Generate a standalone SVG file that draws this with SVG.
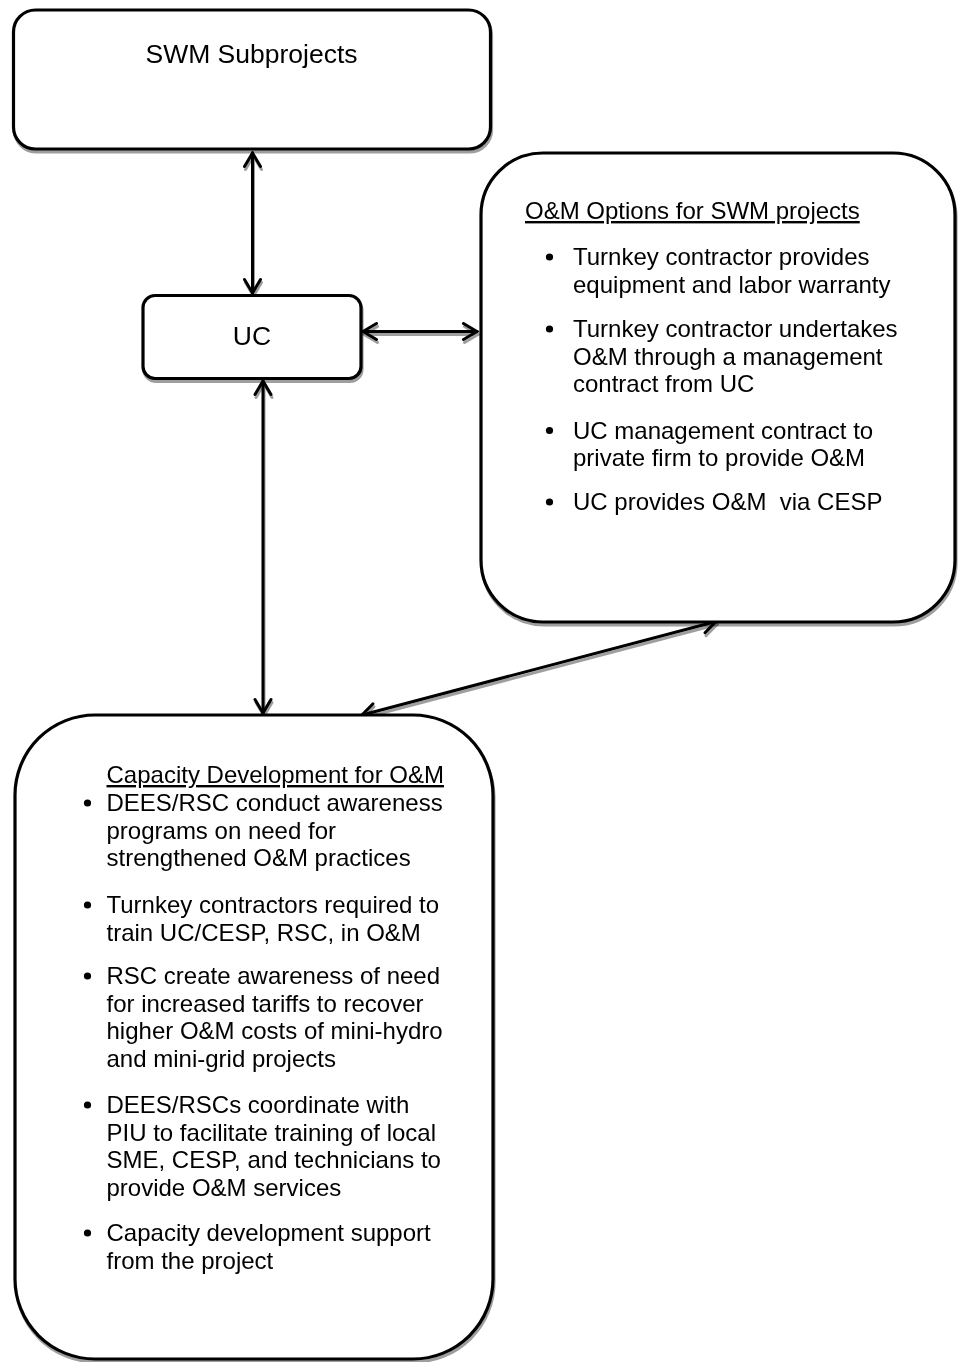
<svg xmlns="http://www.w3.org/2000/svg" width="959" height="1362" viewBox="0 0 959 1362">
  <defs>
    <style>
      .box { fill: #ffffff; stroke: #000000; stroke-width: 3.2; }
      .link { fill: none; stroke: #000000; stroke-width: 3; stroke-linecap: round; }
      .title { font-family: "Liberation Sans", Arial, sans-serif; font-size: 26.5px; fill: #000000; text-anchor: middle; }
      .body { font-family: "Liberation Sans", Arial, sans-serif; font-size: 24px; fill: #000000; }
      .head { text-decoration: underline; }
      .dot { fill: #000000; }
    </style>
    <!-- soft grey drop shadow, down and slightly right -->
    <filter id="shadow" filterUnits="userSpaceOnUse" x="0" y="0" width="959" height="1362">
      <feGaussianBlur in="SourceAlpha" stdDeviation="0.6"/>
      <feOffset dx="1" dy="3" result="off"/>
      <feFlood flood-color="#000000" flood-opacity="0.38"/>
      <feComposite in2="off" operator="in"/>
      <feMerge>
        <feMergeNode/>
        <feMergeNode in="SourceGraphic"/>
      </feMerge>
    </filter>
    <marker id="head" viewBox="-16 -10 18 20" markerWidth="18" markerHeight="20" refX="0" refY="0" markerUnits="userSpaceOnUse" orient="auto-start-reverse">
      <path d="M-13.5,-8 L0,0 L-13.5,8" fill="none" stroke="#000000" stroke-width="3" stroke-linecap="round" stroke-linejoin="miter"/>
    </marker>
  </defs>

  <rect width="959" height="1362" fill="#ffffff"/>

  <!-- connectors -->
  <g id="connectors" filter="url(#shadow)">
    <line class="link" x1="252.5" y1="153" x2="252.5" y2="293" marker-start="url(#head)" marker-end="url(#head)"/>
    <line class="link" x1="363" y1="331.5" x2="477" y2="331.5" marker-start="url(#head)" marker-end="url(#head)"/>
    <line class="link" x1="263" y1="381" x2="263" y2="713" marker-start="url(#head)" marker-end="url(#head)"/>
    <line class="link" x1="716" y1="621.5" x2="362" y2="715" marker-start="url(#head)" marker-end="url(#head)"/>
  </g>

  <!-- SWM Subprojects -->
  <g id="swm-subprojects" filter="url(#shadow)">
    <rect class="box" x="13.5" y="10" width="477" height="139" rx="22"/>
    <text class="title" x="251.5" y="63">SWM Subprojects</text>
  </g>

  <!-- UC -->
  <g id="uc" filter="url(#shadow)">
    <rect class="box" x="143" y="295.5" width="218" height="83" rx="12"/>
    <text class="title" x="252" y="345">UC</text>
  </g>

  <!-- O&M options -->
  <g id="om-options" filter="url(#shadow)">
    <rect class="box" x="481" y="153" width="474" height="469" rx="62"/>
    <text class="body head" x="525" y="219">O&amp;M Options for SWM projects</text>
    <circle class="dot" cx="549.5" cy="257" r="3.6"/>
    <text class="body" x="573" y="265">Turnkey contractor provides</text>
    <text class="body" x="573" y="292.5">equipment and labor warranty</text>
    <circle class="dot" cx="549.5" cy="329" r="3.6"/>
    <text class="body" x="573" y="337">Turnkey contractor undertakes</text>
    <text class="body" x="573" y="364.5">O&amp;M through a management</text>
    <text class="body" x="573" y="392">contract from UC</text>
    <circle class="dot" cx="549.5" cy="430.5" r="3.6"/>
    <text class="body" x="573" y="438.5">UC management contract to</text>
    <text class="body" x="573" y="466">private firm to provide O&amp;M</text>
    <circle class="dot" cx="549.5" cy="502" r="3.6"/>
    <text class="body" x="573" y="510" xml:space="preserve">UC provides O&amp;M  via CESP</text>
  </g>

  <!-- Capacity development -->
  <g id="capacity-development" filter="url(#shadow)">
    <rect class="box" x="15" y="715" width="478" height="644" rx="80"/>
    <text class="body head" x="106.5" y="783">Capacity Development for O&amp;M</text>
    <circle class="dot" cx="87.5" cy="803" r="3.6"/>
    <text class="body" x="106.5" y="811">DEES/RSC conduct awareness</text>
    <text class="body" x="106.5" y="838.5">programs on need for</text>
    <text class="body" x="106.5" y="866">strengthened O&amp;M practices</text>
    <circle class="dot" cx="87.5" cy="905" r="3.6"/>
    <text class="body" x="106.5" y="913">Turnkey contractors required to</text>
    <text class="body" x="106.5" y="940.5">train UC/CESP, RSC, in O&amp;M</text>
    <circle class="dot" cx="87.5" cy="976" r="3.6"/>
    <text class="body" x="106.5" y="984">RSC create awareness of need</text>
    <text class="body" x="106.5" y="1011.5">for increased tariffs to recover</text>
    <text class="body" x="106.5" y="1039">higher O&amp;M costs of mini-hydro</text>
    <text class="body" x="106.5" y="1066.5">and mini-grid projects</text>
    <circle class="dot" cx="87.5" cy="1105" r="3.6"/>
    <text class="body" x="106.5" y="1113">DEES/RSCs coordinate with</text>
    <text class="body" x="106.5" y="1140.5">PIU to facilitate training of local</text>
    <text class="body" x="106.5" y="1168">SME, CESP, and technicians to</text>
    <text class="body" x="106.5" y="1195.5">provide O&amp;M services</text>
    <circle class="dot" cx="87.5" cy="1233" r="3.6"/>
    <text class="body" x="106.5" y="1241">Capacity development support</text>
    <text class="body" x="106.5" y="1268.5">from the project</text>
  </g>
</svg>
